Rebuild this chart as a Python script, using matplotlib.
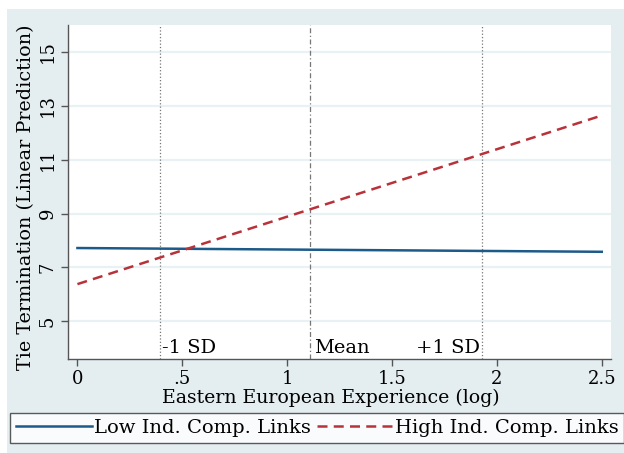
import matplotlib
matplotlib.use('Agg')
import matplotlib.pyplot as plt
from matplotlib.patches import Rectangle
import matplotlib.transforms as mtransforms
import numpy as np

# values
x_ends = [0.0, 2.5]
low_links = [7.72, 7.58]
high_links = [6.38, 12.64]
ref_lines = [0.396, 1.111, 1.928]
ref_labels = ['-1 SD', 'Mean', '+1 SD']
ref_styles = [':', (0, (4, 2, 1, 2)), ':']
x_ticks = [0, 0.5, 1, 1.5, 2, 2.5]
x_ticklabels = ['0', '.5', '1', '1.5', '2', '2.5']
y_ticks = [5, 7, 9, 11, 13, 15]

W, H = 624, 453
bg = '#e4eef1'
grid_col = '#e8f1f4'
navy = '#1c5a8a'
red = '#b8323a'

plt.rcParams['font.family'] = ['DejaVu Serif']
fs = 14
tick_fs = 13

fig = plt.figure(figsize=(W / 100, H / 100), dpi=100, facecolor='white')
fig.patches.append(Rectangle((7 / W, 0), 1, 1 - 9 / H, transform=fig.transFigure,
                             facecolor=bg, edgecolor='none', zorder=-5))

ax = fig.add_axes([68 / W, (H - 359) / H, (611 - 68) / W, (359 - 25) / H])
ax.set_facecolor('white')
ax.set_xlim(-0.045, 2.544)
ax.set_ylim(3.6, 16.0)

for s in ['top', 'right']:
    ax.spines[s].set_visible(False)
for s in ['left', 'bottom']:
    ax.spines[s].set_color('#555555')
    ax.spines[s].set_linewidth(1.0)

ax.set_yticks(y_ticks)
ax.set_yticklabels([str(v) for v in y_ticks], rotation=90, va='center', fontsize=tick_fs)
ax.set_xticks(x_ticks)
ax.set_xticklabels(x_ticklabels, fontsize=tick_fs)
ax.tick_params(axis='both', length=5, width=1, color='#555555', pad=3)
ax.yaxis.grid(True, color=grid_col, linewidth=1.6)
ax.set_axisbelow(True)

ax.set_xlabel('Eastern European Experience (log)', fontsize=13.6)
ax.set_ylabel('Tie Termination (Linear Prediction)', fontsize=13.8)
ax.xaxis.set_label_coords(0.484, -0.088)
ax.yaxis.set_label_coords(-0.061, 0.485)

for xv, ls in zip(ref_lines, ref_styles):
    ax.axvline(xv, color='#777777', linestyle=ls, linewidth=0.9, zorder=1)

trans = mtransforms.blended_transform_factory(ax.transData, ax.transAxes)
ax.text(ref_lines[0] + 0.008, 0.005, ref_labels[0], transform=trans, ha='left', va='bottom', fontsize=fs)
ax.text(ref_lines[1] + 0.015, 0.005, ref_labels[1], transform=trans, ha='left', va='bottom', fontsize=fs)
ax.text(ref_lines[2] - 0.01, 0.005, ref_labels[2], transform=trans, ha='right', va='bottom', fontsize=fs)

l1, = ax.plot(x_ends, low_links, color=navy, linewidth=1.8, label='Low Ind. Comp. Links', zorder=3)
l2, = ax.plot(x_ends, high_links, color=red, linewidth=1.8, linestyle=(0, (4, 2.5)),
              label='High Ind. Comp. Links', zorder=3)

leg = fig.legend(handles=[l1, l2], loc='upper left', bbox_to_anchor=(10 / W, 1 - 413 / H),
                 ncol=2, fontsize=fs, frameon=True, fancybox=False, handlelength=3.9,
                 handletextpad=0.12, columnspacing=0.3, borderpad=0.3, borderaxespad=0)
leg.get_frame().set_edgecolor('#333333')
leg.get_frame().set_linewidth(1.0)
leg.get_frame().set_facecolor('white')

fig.savefig('out.png', dpi=100, facecolor=fig.get_facecolor())
